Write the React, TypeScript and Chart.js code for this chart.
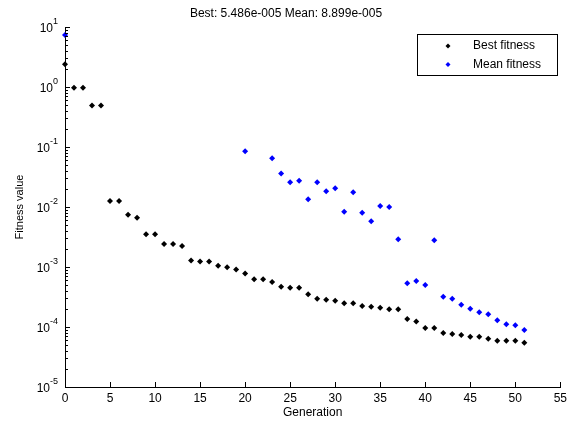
import React, { useEffect, useRef } from "react";
import { Chart, registerables } from "chart.js";

Chart.register(...registerables);

const generations = [0, 1, 2, 3, 4, 5, 6, 7, 8, 9, 10, 11, 12, 13, 14, 15, 16, 17, 18, 19, 20, 21, 22, 23, 24, 25, 26, 27, 28, 29, 30, 31, 32, 33, 34, 35, 36, 37, 38, 39, 40, 41, 42, 43, 44, 45, 46, 47, 48, 49, 50, 51];

const bestFitness = [
  2.39, 0.97, 0.97, 0.49, 0.49, 0.0126, 0.0126, 0.00745, 0.00664, 0.0035,
  0.0035, 0.00242, 0.00242, 0.00224, 0.00128, 0.00123, 0.00123, 0.00105, 0.00099, 0.00091,
  0.00078, 0.000623, 0.000623, 0.000562, 0.00047, 0.000453, 0.000453, 0.00035, 0.000297, 0.000285,
  0.000275, 0.000248, 0.000248, 0.000224, 0.000218, 0.00021, 0.000197, 0.000197, 0.000136, 0.000124,
  9.63e-5, 9.63e-5, 7.94e-5, 7.64e-5, 7.36e-5, 6.9e-5, 6.9e-5, 6.39e-5, 5.91e-5, 5.91e-5,
  5.91e-5, 5.486e-5,
];

const meanFitness = [
  7.36, null, null, null, null, null, null, null, null, null,
  null, null, null, null, null, null, null, null, null, null,
  0.0848, null, null, 0.0648, 0.036, 0.0258, 0.0275, 0.0134, 0.0258, 0.0183,
  0.0205, 0.00836, 0.0176, 0.00805, 0.00577, 0.0104, 0.01, 0.00289, 0.000535, 0.000585,
  0.0005, 0.00278, 0.00032, 0.000297, 0.000236, 0.000202, 0.000176, 0.000163, 0.000129, 0.000111,
  0.000107, 8.899e-5,
];

const xTicks = [0, 5, 10, 15, 20, 25, 30, 35, 40, 45, 50, 55];
const yExponents = [-5, -4, -3, -2, -1, 0, 1];
const titleText = "Best: 5.486e-005 Mean: 8.899e-005";
const xTitle = "Generation";
const yTitle = "Fitness value";
const legendLabels = ["Best fitness", "Mean fitness"];
const seriesColors = ["#000000", "#0000ff"];

const FONT = "'Liberation Sans', Arial, sans-serif";

const overlay = {
  id: "matlabOverlay",
  afterDraw(chart: any) {
    const ctx = chart.ctx;
    const xs = chart.scales.x;
    const ys = chart.scales.y;
    const area = chart.chartArea;
    ctx.save();
    ctx.strokeStyle = "#000";
    ctx.lineWidth = 1;
    ctx.beginPath();
    for (const t of xTicks) {
      const px = Math.round(xs.getPixelForValue(t)) + 0.5;
      ctx.moveTo(px, area.bottom);
      ctx.lineTo(px, area.bottom - 5);
    }
    for (const e of yExponents) {
      const py = Math.round(ys.getPixelForValue(Math.pow(10, e))) + 0.5;
      ctx.moveTo(area.left, py);
      ctx.lineTo(area.left + 5, py);
      if (e < 1) {
        for (let m = 2; m <= 9; m++) {
          const my = Math.round(ys.getPixelForValue(m * Math.pow(10, e))) + 0.5;
          ctx.moveTo(area.left, my);
          ctx.lineTo(area.left + 3, my);
        }
      }
    }
    ctx.stroke();

    ctx.fillStyle = "#000";
    for (const e of yExponents) {
      const py = ys.getPixelForValue(Math.pow(10, e));
      const expStr = e < 0 ? "-" + Math.abs(e) : String(e);
      ctx.font = `9px ${FONT}`;
      const ew = ctx.measureText(expStr).width;
      const right = area.left - 7;
      ctx.textAlign = "left";
      ctx.textBaseline = "alphabetic";
      ctx.fillText(expStr, right - ew, py - 3);
      ctx.font = `12px ${FONT}`;
      const bw = ctx.measureText("10").width;
      ctx.fillText("10", right - ew - bw, py + 5);
    }

    ctx.font = `12px ${FONT}`;
    ctx.textAlign = "center";
    ctx.textBaseline = "middle";
    ctx.fillText(titleText, 286, 14);
    ctx.fillText(xTitle, (area.left + area.right) / 2, 413);
    ctx.save();
    ctx.translate(20, 207);
    ctx.rotate(-Math.PI / 2);
    ctx.font = `11px ${FONT}`;
    ctx.fillText(yTitle, 0, 0);
    ctx.restore();

    const lx = 417, ly = 34, lw = 140, lh = 41;
    ctx.fillStyle = "#fff";
    ctx.fillRect(lx, ly, lw, lh);
    ctx.strokeStyle = "#000";
    ctx.strokeRect(lx + 0.5, ly + 0.5, lw, lh);
    ctx.font = `12px ${FONT}`;
    ctx.textAlign = "left";
    ctx.textBaseline = "middle";
    legendLabels.forEach((lab, i) => {
      const yy = 46 + i * 18.5;
      ctx.fillStyle = seriesColors[i];
      ctx.beginPath();
      ctx.moveTo(448, yy - 2.5);
      ctx.lineTo(450.5, yy);
      ctx.lineTo(448, yy + 2.5);
      ctx.lineTo(445.5, yy);
      ctx.closePath();
      ctx.fill();
      ctx.fillStyle = "#000";
      ctx.fillText(lab, 473, yy);
    });
    ctx.restore();
  },
};

export default function App() {
  const ref = useRef<HTMLCanvasElement | null>(null);
  useEffect(() => {
    if (!ref.current) return;
    const mk = (arr: (number | null)[]) =>
      generations.map((g, i) => ({ x: g, y: arr[i] }));
    const chart = new Chart(ref.current, {
      type: "scatter",
      data: {
        datasets: [
          {
            label: legendLabels[0],
            data: mk(bestFitness) as any,
            backgroundColor: seriesColors[0],
            borderColor: seriesColors[0],
            pointStyle: "rectRot",
            pointRadius: 3,
            borderWidth: 0,
            clip: false,
          } as any,
          {
            label: legendLabels[1],
            data: mk(meanFitness) as any,
            backgroundColor: seriesColors[1],
            borderColor: seriesColors[1],
            pointStyle: "rectRot",
            pointRadius: 3,
            borderWidth: 0,
            clip: false,
          } as any,
        ],
      },
      options: {
        animation: false,
        responsive: false,
        devicePixelRatio: 1,
        layout: { padding: { left: 0, top: 27, right: 7, bottom: 0 } },
        plugins: {
          legend: { display: false },
          tooltip: { enabled: false },
          title: { display: false },
        },
        scales: {
          x: {
            type: "linear",
            min: 0,
            max: 55,
            afterBuildTicks: (axis: any) => {
              axis.ticks = xTicks.map((v) => ({ value: v }));
            },
            afterFit: (axis: any) => {
              axis.height = 36;
            },
            grid: { display: false, drawTicks: false },
            border: { display: true, color: "#000", width: 1 },
            ticks: {
              color: "#000",
              font: { family: FONT, size: 12 },
              padding: 4,
              maxRotation: 0,
              autoSkip: false,
            },
          },
          y: {
            type: "logarithmic",
            min: 1e-5,
            max: 10,
            afterBuildTicks: (axis: any) => {
              axis.ticks = yExponents.map((e) => ({ value: Math.pow(10, e) }));
            },
            afterFit: (axis: any) => {
              axis.width = 65;
            },
            grid: { display: false, drawTicks: false },
            border: { display: true, color: "#000", width: 1 },
            ticks: { display: false },
          },
        },
      },
      plugins: [overlay],
    });
    return () => chart.destroy();
  }, []);
  return (
    <div style={{ position: "absolute", left: 0, top: 0, width: 571, height: 423, background: "#fff" }}>
      <canvas ref={ref} width={571} height={423} />
    </div>
  );
}
